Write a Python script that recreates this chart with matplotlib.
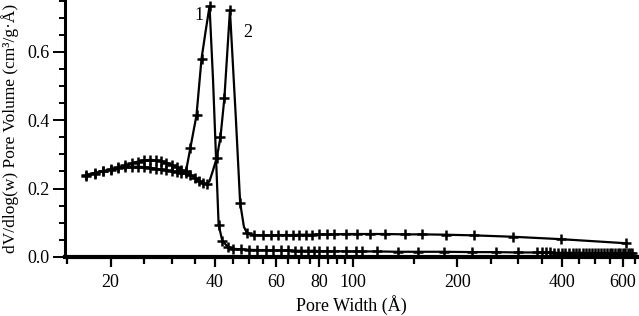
import matplotlib
matplotlib.use("Agg")
import matplotlib.pyplot as plt
from matplotlib.ticker import FixedLocator, NullFormatter

plt.rcParams["font.family"] = ["Liberation Serif", "DejaVu Serif"]

# curve 1: peak near 39 A
c1_x = [17.0, 18.0, 19.0, 20.0, 21.0, 22.0, 23.0, 24.0, 25.0, 26.0, 27.0, 28.0,
        29.0, 30.0, 31.0, 32.0, 33.0, 34.0, 35.4, 36.6, 37.6, 38.6, 39.5, 40.3,
        41.0, 42.0, 43.5, 45.0, 47.5, 50.0, 53.0, 56.0, 59.0, 62.0, 65.0, 68.0,
        71.0, 74.0, 77.0, 80.0, 84.0, 88.0, 95.5, 102.0, 106.0, 117.0, 135.0,
        154.0, 183.0, 221.0, 258.0, 300.0, 340.0, 350.0, 360.0, 370.0, 380.0,
        390.0, 400.0, 410.0, 420.0, 430.0, 440.0, 450.0, 460.0, 470.0, 480.0,
        490.0, 500.0, 510.0, 520.0, 530.0, 540.0, 550.0, 560.0, 570.0, 580.0,
        590.0, 600.0, 610.0, 620.0, 630.0, 640.0]
c1_y = [0.240, 0.246, 0.251, 0.256, 0.262, 0.268, 0.274, 0.279, 0.283, 0.284,
        0.283, 0.280, 0.276, 0.270, 0.262, 0.254, 0.250, 0.320, 0.415, 0.580,
        0.660, 0.734, 0.520, 0.290, 0.094, 0.048, 0.030, 0.024, 0.022, 0.021,
        0.020, 0.020, 0.019, 0.019, 0.019, 0.018, 0.018, 0.018, 0.018, 0.017,
        0.017, 0.017, 0.016, 0.016, 0.016, 0.016, 0.015, 0.015, 0.015, 0.014,
        0.014, 0.013, 0.013, 0.013, 0.013, 0.013, 0.012, 0.012, 0.012, 0.012,
        0.012, 0.012, 0.012, 0.012, 0.012, 0.011, 0.011, 0.011, 0.011, 0.011,
        0.011, 0.011, 0.011, 0.011, 0.011, 0.011, 0.010, 0.010, 0.010, 0.010,
        0.010, 0.010, 0.010]
c1_nomark = [37.6, 39.5, 40.3]

# curve 2: peak near 44 A
c2_x = [17.0, 18.0, 19.0, 20.0, 21.0, 22.0, 23.0, 24.0, 25.0, 26.0, 27.0, 28.0,
        29.0, 30.0, 31.0, 32.0, 33.0, 34.0, 35.0, 36.0, 37.0, 38.0, 38.6, 39.4,
        40.5, 41.5, 42.6, 44.2, 46.0, 47.3, 48.5, 49.5, 52.0, 55.0, 58.0, 61.0,
        64.0, 67.0, 70.0, 73.0, 76.0, 80.0, 84.0, 88.0, 95.5, 103.0, 112.0,
        124.0, 141.0, 158.0, 185.0, 224.0, 289.0, 397.0, 613.0]
c2_y = [0.238, 0.244, 0.250, 0.255, 0.259, 0.262, 0.264, 0.264, 0.263, 0.261,
        0.258, 0.256, 0.253, 0.251, 0.249, 0.247, 0.245, 0.240, 0.232, 0.223,
        0.216, 0.214, 0.222, 0.250, 0.290, 0.350, 0.465, 0.722, 0.400, 0.158,
        0.088, 0.070, 0.064, 0.063, 0.063, 0.064, 0.064, 0.064, 0.065, 0.065,
        0.065, 0.066, 0.066, 0.066, 0.067, 0.067, 0.067, 0.067, 0.066, 0.066,
        0.065, 0.063, 0.059, 0.052, 0.040]
c2_nomark = [38.6, 39.4, 46.0, 48.5]

x_major = [20, 40, 60, 80, 100, 200, 400, 600]
x_minor = [15, 25, 30, 35, 45, 50, 55, 65, 70, 75, 85, 90, 95,
           150, 250, 300, 350, 450, 500, 550, 650]
y_major = [0.0, 0.2, 0.4, 0.6]
y_minor = [0.05, 0.1, 0.15, 0.25, 0.3, 0.35, 0.45, 0.5, 0.55, 0.65, 0.7, 0.75]

fig = plt.figure(figsize=(6.39, 3.16), dpi=100)
ax = fig.add_axes([0.102, 0.187, 0.895, 0.813])

for xs, ys, skip in ((c1_x, c1_y, c1_nomark), (c2_x, c2_y, c2_nomark)):
    marks = [i for i, x in enumerate(xs) if x not in skip]
    ax.plot(xs, ys, color="black", lw=1.6, marker="+", ms=7, mew=1.8,
            markevery=marks)

ax.text(36.1, 0.707, "1", fontsize=13, ha="center", va="center")
ax.text(49.9, 0.658, "2", fontsize=13, ha="center", va="center")

ax.set_xscale("log")
ax.set_xlim(14.8, 660)
ax.set_ylim(0.0, 0.752)

ax.xaxis.set_major_locator(FixedLocator(x_major))
ax.xaxis.set_minor_locator(FixedLocator(x_minor))
ax.xaxis.set_minor_formatter(NullFormatter())
ax.set_xticklabels([str(v) for v in x_major])
ax.yaxis.set_major_locator(FixedLocator(y_major))
ax.yaxis.set_minor_locator(FixedLocator(y_minor))
ax.set_yticklabels(["%.1f" % v for v in y_major])

for side in ("top", "right"):
    ax.spines[side].set_visible(False)
ax.spines["bottom"].set_linewidth(3.0)
ax.spines["left"].set_linewidth(2.2)

ax.tick_params(axis="x", which="major", length=7, width=1.6, labelsize=13, pad=5)
ax.tick_params(axis="x", which="minor", length=5, width=1.6)
ax.tick_params(axis="y", which="major", length=9, width=1.4, labelsize=13, pad=2)
ax.tick_params(axis="y", which="minor", length=4, width=1.4)

ax.set_xlabel("Pore Width (Å)", fontsize=13, labelpad=3)
ax.set_ylabel("dV/dlog(w) Pore Volume (cm³/g·Å)", fontsize=12.5)
ax.yaxis.set_label_coords(-0.080, 0.5)

fig.savefig("out.png", dpi=100)
plt.close(fig)
